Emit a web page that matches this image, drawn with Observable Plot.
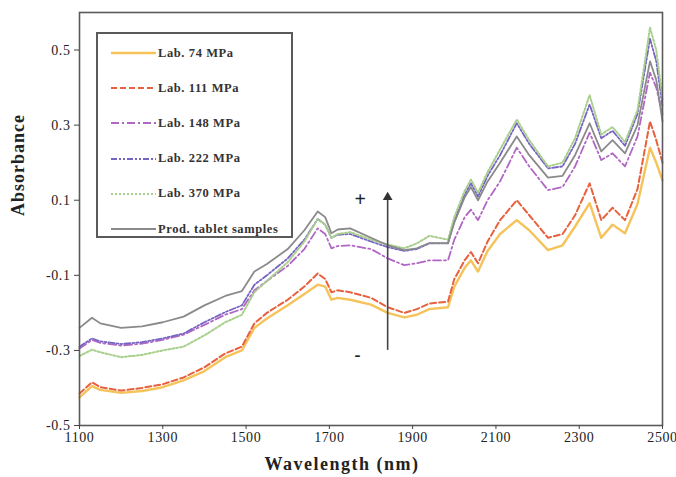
<!DOCTYPE html>
<html>
<head>
<meta charset="utf-8">
<script src="https://cdn.jsdelivr.net/npm/d3@7"></script>
<script src="https://cdn.jsdelivr.net/npm/@observablehq/plot@0.6"></script>
<style>
  html, body { margin: 0; padding: 0; background: #fff; }
  #wrap { position: relative; width: 676px; height: 477px; overflow: hidden; }
  #wrap svg text { letter-spacing: 0.6px; }
  #legend { position: absolute; left: 96px; top: 32px; width: 193px; height: 202px;
    border: 2px solid #5a5a5a; background: #fff; font-family: "Liberation Serif", serif;
    font-weight: bold; font-size: 12.5px; color: #333; letter-spacing: 0.6px; }
  .row { position: absolute; left: 13px; height: 14px; display: flex; align-items: center; white-space: nowrap; }
  .row svg { margin-right: 2px; }
</style>
</head>
<body>
<div id="wrap"></div>
<script>
// ---- data ----
const wavelengths = [1100,1130,1150,1200,1250,1300,1350,1400,1450,1490,1520,1550,1600,1640,1672,1690,1705,1720,1750,1800,1840,1880,1910,1940,1985,2000,2025,2040,2057,2080,2110,2150,2180,2225,2260,2290,2325,2353,2380,2410,2440,2470,2485,2500];

const lab74 = [-0.425,-0.395,-0.405,-0.413,-0.408,-0.398,-0.38,-0.355,-0.318,-0.3,-0.24,-0.215,-0.18,-0.15,-0.125,-0.13,-0.165,-0.16,-0.165,-0.178,-0.2,-0.212,-0.205,-0.19,-0.185,-0.13,-0.08,-0.06,-0.09,-0.035,0.01,0.047,0.02,-0.033,-0.02,0.03,0.092,0.0,0.035,0.012,0.09,0.24,0.2,0.153];
const lab111 = [-0.415,-0.385,-0.398,-0.407,-0.4,-0.39,-0.372,-0.345,-0.308,-0.29,-0.228,-0.2,-0.165,-0.13,-0.095,-0.11,-0.145,-0.14,-0.145,-0.16,-0.185,-0.2,-0.19,-0.175,-0.17,-0.11,-0.06,-0.038,-0.068,-0.01,0.047,0.1,0.06,0.0,0.01,0.06,0.145,0.047,0.08,0.047,0.13,0.31,0.26,0.2];
const lab148 = [-0.295,-0.272,-0.28,-0.287,-0.282,-0.272,-0.258,-0.232,-0.205,-0.19,-0.14,-0.115,-0.075,-0.03,0.025,0.01,-0.028,-0.022,-0.02,-0.03,-0.055,-0.073,-0.068,-0.06,-0.06,-0.005,0.055,0.075,0.047,0.1,0.15,0.24,0.19,0.127,0.135,0.19,0.28,0.207,0.225,0.19,0.27,0.44,0.4,0.33];
const lab222 = [-0.29,-0.268,-0.276,-0.283,-0.278,-0.268,-0.255,-0.225,-0.198,-0.18,-0.125,-0.1,-0.055,-0.005,0.05,0.035,0.0,0.008,0.01,-0.01,-0.025,-0.035,-0.03,-0.015,-0.015,0.045,0.115,0.145,0.11,0.165,0.22,0.305,0.25,0.185,0.19,0.25,0.355,0.265,0.285,0.245,0.33,0.53,0.47,0.35];
const lab370 = [-0.315,-0.298,-0.305,-0.318,-0.312,-0.3,-0.29,-0.26,-0.225,-0.205,-0.145,-0.115,-0.065,-0.01,0.05,0.035,0.0,0.01,0.015,-0.005,-0.018,-0.028,-0.015,0.005,-0.005,0.055,0.125,0.155,0.12,0.175,0.235,0.315,0.26,0.19,0.2,0.265,0.38,0.275,0.295,0.255,0.34,0.56,0.5,0.37];
const prod = [-0.24,-0.213,-0.228,-0.24,-0.236,-0.225,-0.21,-0.18,-0.155,-0.142,-0.09,-0.07,-0.03,0.02,0.07,0.055,0.012,0.022,0.025,0.0,-0.02,-0.033,-0.028,-0.014,-0.014,0.04,0.108,0.135,0.1,0.15,0.2,0.27,0.22,0.16,0.165,0.22,0.305,0.23,0.26,0.225,0.3,0.47,0.42,0.31];

const seriesNames = ["Lab. 74 MPa", "Lab. 111 MPa", "Lab. 148 MPa", "Lab. 222 MPa", "Lab. 370 MPa", "Prod. tablet samples"];
const seriesValues = [lab74, lab111, lab148, lab222, lab370, prod];

const xTicks = [1100, 1300, 1500, 1700, 1900, 2100, 2300, 2500];
const yTicks = [-0.5, -0.3, -0.1, 0.1, 0.3, 0.5];

// annotation ("+" / "-" and the arrow), in data units
const signLabels = [{text: "+", wl: 1775, a: 0.103, size: 20}, {text: "-", wl: 1768, a: -0.312, size: 18}];
const arrowSpan = [{wl: 1840, from: -0.3, to: 0.1}];
const arrowHead = [{wl: 1840, a: 0.108}];

// ---- styles ----
const colors = ["#f5c35a", "#e8613e", "#b067c4", "#7663c2", "#a8cf8c", "#8a8a8a"];
const dashes = [null, "6,3", "8,3,2,3", "6,2,2,2,2,2", "2,2", null];
const widths = [2.4, 2, 1.8, 1.8, 2, 1.8];

const rows = seriesNames.flatMap((name, s) =>
  wavelengths.map((w, i) => ({series: name, s, wl: w, a: seriesValues[s][i]})));

const lineMarks = seriesNames.map((name, s) =>
  Plot.line(rows.filter(d => d.s === s), {
    x: "wl", y: "a", stroke: colors[s], strokeWidth: widths[s],
    strokeDasharray: dashes[s] || undefined, strokeLinejoin: "round"
  }));

const plot = Plot.plot({
  width: 676, height: 477,
  marginLeft: 79, marginRight: 14, marginTop: 12, marginBottom: 52,
  style: {fontFamily: "'Liberation Serif', serif", fontSize: "14px", color: "#222", background: "#fff"},
  x: {domain: [1100, 2500]},
  y: {domain: [-0.5, 0.6]},
  marks: [
    ...lineMarks,
    Plot.frame({stroke: "#5a5a5a", strokeWidth: 1.6}),
    Plot.axisX({ticks: xTicks, tickFormat: d => String(d), tickSize: 4, tickPadding: 3, label: null, stroke: "#444"}),
    Plot.axisY({ticks: yTicks, tickFormat: d => d.toFixed(1), tickSize: 5, tickPadding: 4, label: null, stroke: "#444"}),
    Plot.text(["Wavelength (nm)"], {frameAnchor: "bottom", dy: 44, dx: -29, fontWeight: "bold", fontSize: 18, fill: "#222"}),
    Plot.text(["Absorbance"], {frameAnchor: "left", dx: -61, dy: -3, rotate: -90, fontWeight: "bold", fontSize: 18, fill: "#222"}),
    Plot.text(signLabels, {x: "wl", y: "a", text: "text", fontWeight: "bold", fontSize: d => d.size, fill: "#222"}),
    Plot.ruleX(arrowSpan, {x: "wl", y1: "from", y2: "to", stroke: "#444", strokeWidth: 1.6}),
    Plot.dot(arrowHead, {x: "wl", y: "a", symbol: "triangle", r: 3.6, fill: "#333", stroke: "none"})
  ]
});

const wrap = document.getElementById("wrap");
wrap.appendChild(plot);
d3.select(plot).selectAll("text").filter(function() { return this.textContent === "Wavelength (nm)"; }).style("letter-spacing", "1.5px");
d3.select(plot).selectAll("text").filter(function() { return this.textContent === "Absorbance"; }).style("letter-spacing", "1px");

// legend box inside the plot area
const legend = document.createElement("div");
legend.id = "legend";
seriesNames.forEach((name, s) => {
  const row = document.createElement("div");
  row.className = "row";
  row.style.top = (12 + s * 35.2) + "px";
  const svg = d3.create("svg").attr("width", 45).attr("height", 6);
  svg.append("line").attr("x1", 0).attr("x2", 45).attr("y1", 3).attr("y2", 3)
    .attr("stroke", colors[s]).attr("stroke-width", widths[s])
    .attr("stroke-dasharray", dashes[s]);
  row.appendChild(svg.node());
  const span = document.createElement("span");
  span.textContent = name;
  row.appendChild(span);
  legend.appendChild(row);
});
wrap.appendChild(legend);
</script>
</body>
</html>
